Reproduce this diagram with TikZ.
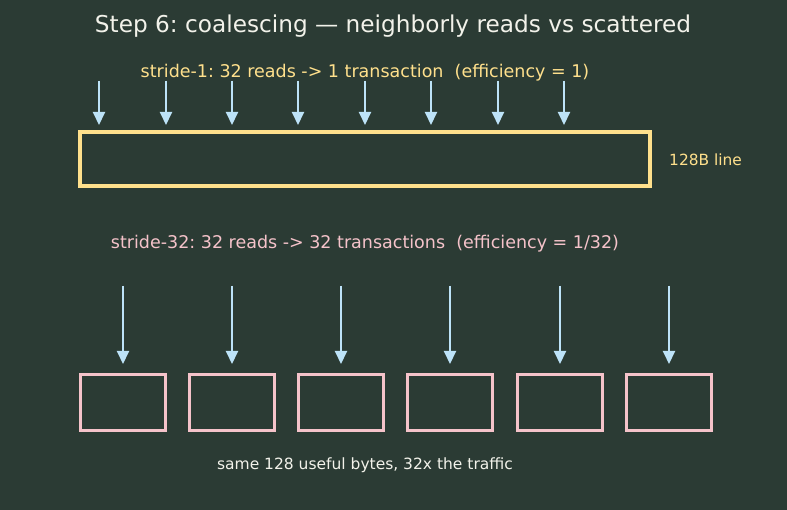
\documentclass[tikz,border=0pt]{standalone}
\usepackage{fontspec}
\setmainfont{DejaVu Sans}
\frenchspacing
\usetikzlibrary{arrows.meta}
\definecolor{bg}{HTML}{2B3B34}
\definecolor{ttl}{HTML}{F2F2EA}
\definecolor{yel}{HTML}{FFE08C}
\definecolor{pnk}{HTML}{F5C3CA}
\definecolor{blu}{HTML}{BDE3F8}
\tikzset{
  rd/.style={draw=blu, line width=2pt, -{Triangle[width=12pt,length=13pt]}, fill=blu},
  linebox/.style={draw=yel, line width=4pt, minimum width=570pt, minimum height=54pt, inner sep=0pt},
  sbox/.style={draw=pnk, line width=3pt, minimum width=85pt, minimum height=55pt, inner sep=0pt},
  lbl/.style={inner sep=0pt, anchor=center}
}
\begin{document}
\begin{tikzpicture}[x=1pt,y=-1pt]
\fill[bg] (0,0) rectangle (787,510);
\useasboundingbox (0,0) rectangle (787,510);
\node[lbl, text=ttl, font=\fontsize{23.2}{26}\selectfont] (title) at (393,26) {Step 6: coalescing — neighborly reads vs scattered};
\node[lbl, text=yel, font=\fontsize{17.5}{20}\selectfont] (s1) at (365,73) {stride-1: 32 reads -> 1 transaction\ \ (efficiency = 1)};
\node[linebox] (line) at (365,159) {};
\node[lbl, anchor=west, text=yel, font=\fontsize{15.4}{18}\selectfont] (ll) at (669,160) {128B line};
\foreach \i/\x in {1/99,2/166,3/232,4/298,5/365,6/431,7/498,8/564} {
  \coordinate (a\i) at (\x,81);
  \coordinate (b\i) at (\x,125);
  \draw[rd] (a\i) -- (b\i);
}
\node[lbl, text=pnk, font=\fontsize{17.5}{20}\selectfont] (s32) at (365,244) {stride-32: 32 reads -> 32 transactions\ \ (efficiency = 1/32)};
\foreach \i/\x in {1/123,2/232,3/341,4/450,5/560,6/669} {
  \node[sbox] (box\i) at (\x,402.5) {};
  \coordinate (c\i) at (\x,286);
  \draw[rd] (c\i) -- (box\i.north |- 0,364);
}
\node[lbl, text=ttl, font=\fontsize{15.5}{18}\selectfont] (foot) at (365,465) {same 128 useful bytes, 32x the traffic};
\end{tikzpicture}
\end{document}
